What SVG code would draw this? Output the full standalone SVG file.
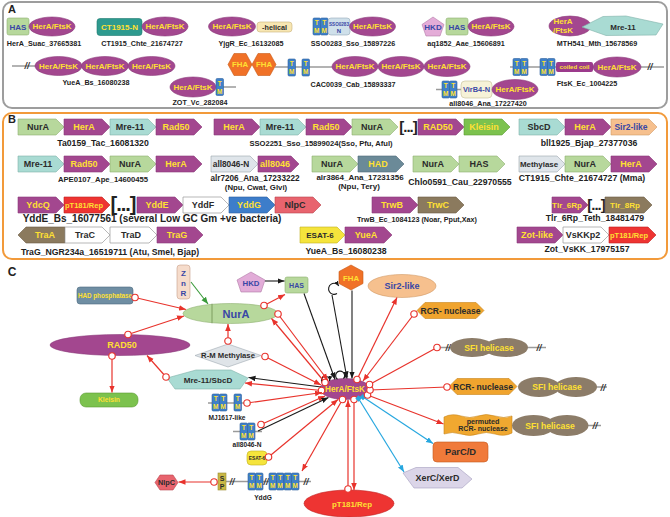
<svg xmlns="http://www.w3.org/2000/svg" width="670" height="517" viewBox="0 0 670 517">
<style>
text{font-family:"Liberation Sans",Arial,sans-serif;font-weight:bold;text-anchor:middle}
.la{font-size:7.2px;fill:#222}
.lb{font-size:8.7px;fill:#222}
.lc{font-size:6.6px;fill:#222}
.s9{font-size:9px}
.s8{font-size:8px}
.y{fill:#ffe032}
.bl{fill:#3947a6}
.dk{fill:#2b2b2b}
.her{fill:#a3478f;stroke:#8b3a7b;stroke-width:.6}
.grn{fill:#b7d89c;stroke:#8fb070;stroke-width:.6}
.tea{fill:#a9dbd3;stroke:#7fb2aa;stroke-width:.6}
.wht{fill:#fff;stroke:#9a9a9a;stroke-width:.7}
.gry{fill:#dfe5ea;stroke:#9aa5ad;stroke-width:.6}
.red{fill:#ee3432;stroke:#c02020;stroke-width:.6}
.brn{fill:#8b7a5e;stroke:#6c5d44;stroke-width:.6}
.blu{fill:#3d7dca;stroke:#2c5f9e;stroke-width:.6}
.pnk{fill:#e8646e;stroke:#b8444e;stroke-width:.6}
.kle{fill:#7cc24e;stroke:#5a9a34;stroke-width:.6}
.sir{fill:#f6c08e;stroke:#d29a66;stroke-width:.6}
.had{fill:#6b8a98;stroke:#4e6a78;stroke-width:.6}
.esa{fill:#f5e43c;stroke:#c0b020;stroke-width:.6}
.fha{fill:#f07127;stroke:#c85a18;stroke-width:.6}
.sfi{fill:#8c7c68}
.rcr{fill:#f0a42e;stroke:#c8841a;stroke-width:.6}
.gl{stroke:#9a9a9a;stroke-width:1.5;fill:none}
.sl{font-size:9px;font-style:italic;fill:#333}
.tmt{font-size:6.5px;fill:#ffe032}
.brk{fill:#222}
.rl{stroke:#e8332c;stroke-width:1.2;fill:none}
.kl{stroke:#1a1a1a;stroke-width:1.1;fill:none}
.bu{stroke:#27a7df;stroke-width:1.2;fill:none}
.gn{stroke:#3a9a3a;stroke-width:1.1;fill:none}
</style>
<defs>
<g id="tm"><rect width="7.5" height="17" rx="1.2" fill="#3f80c8" stroke="#2c5f9e" stroke-width=".6"/><text x="3.75" y="7.2" class="tmt">T</text><text x="3.75" y="15" class="tmt">M</text></g>
<marker id="ar" viewBox="0 0 10 10" refX="10" refY="5" markerWidth="7" markerHeight="7" orient="auto" markerUnits="userSpaceOnUse"><path d="M0,1L10,5L0,9z" fill="#e8332c"/></marker>
<marker id="ak" viewBox="0 0 10 10" refX="10" refY="5" markerWidth="7" markerHeight="7" orient="auto" markerUnits="userSpaceOnUse"><path d="M0,1L10,5L0,9z" fill="#1a1a1a"/></marker>
<marker id="aks" viewBox="0 0 10 10" refX="10" refY="5" markerWidth="5" markerHeight="5" orient="auto" markerUnits="userSpaceOnUse"><path d="M0,1L10,5L0,9z" fill="#1a1a1a"/></marker>
<marker id="ab" viewBox="0 0 10 10" refX="10" refY="5" markerWidth="7" markerHeight="7" orient="auto" markerUnits="userSpaceOnUse"><path d="M0,1L10,5L0,9z" fill="#27a7df"/></marker>
<marker id="ag" viewBox="0 0 10 10" refX="10" refY="5" markerWidth="7" markerHeight="7" orient="auto" markerUnits="userSpaceOnUse"><path d="M0,1L10,5L0,9z" fill="#3a9a3a"/></marker>
<marker id="oc" viewBox="0 0 10 10" refX="5" refY="5" markerWidth="9" markerHeight="9" markerUnits="userSpaceOnUse"><circle cx="5" cy="5" r="3.6" fill="#fff" stroke="#e8332c" stroke-width="1.3"/></marker>
<marker id="bd" viewBox="0 0 10 10" refX="5" refY="5" markerWidth="7" markerHeight="7" markerUnits="userSpaceOnUse"><path d="M5,0.5L9.5,5L5,9.5L0.5,5z" fill="#27a7df"/></marker>
</defs>
<rect width="670" height="517" fill="#fff"/>
<g id="frames">
<rect x="3" y="2" width="664" height="106" rx="9" fill="none" stroke="#9d9d9d" stroke-width="2"/>
<rect x="3" y="113" width="664" height="146" rx="9" fill="none" stroke="#f29a3a" stroke-width="2"/>
<text x="12" y="13" style="font-size:11px" fill="#222">A</text>
<text x="12" y="123" style="font-size:11px" fill="#222">B</text>
<text x="12" y="276" style="font-size:12px" fill="#222">C</text>
</g>

<!-- Panel A -->
<g id="a-hera-suac">
<rect x="7" y="18" width="22" height="17" rx="2" class="grn"/><text x="18" y="29.5" class="s8 bl">HAS</text>
<ellipse cx="52" cy="26.5" rx="23" ry="9.5" class="her"/><text x="52" y="29.3" class="s8 y">HerA/FtsK</text>
<text x="44" y="46" class="la">HerA_Suac_37665381</text>
</g>
<g id="a-ct1915">
<rect x="97" y="18.5" width="45" height="17" rx="3" fill="#2e9a8f" stroke="#1f7a70" stroke-width=".6"/><text x="119.5" y="30" class="s8 y">CT1915-N</text>
<ellipse cx="165" cy="26.5" rx="23" ry="9.5" class="her"/><text x="165" y="29.3" class="s8 y">HerA/FtsK</text>
<text x="142" y="46" class="la">CT1915_Chte_21674727</text>
</g>
<g id="a-yjgr">
<ellipse cx="232" cy="26.5" rx="23.5" ry="9.5" class="her"/><text x="232" y="29.3" class="s8 y">HerA/FtsK</text>
<rect x="257" y="22" width="35" height="10" rx="3" fill="#f7e6b2" stroke="#c9b27a" stroke-width=".6"/><text x="274.5" y="29.5" style="font-size:7.2px" class="dk">-helical</text>
<text x="251" y="46" class="la">YjgR_Ec_16132085</text>
</g>
<g id="a-sso0283">
<use href="#tm" x="313" y="18"/><use href="#tm" x="320.5" y="18"/>
<rect x="328" y="18" width="22" height="17" rx="3" fill="#cfe0ea" stroke="#95aab8" stroke-width=".6"/>
<text x="339" y="25.5" style="font-size:4.6px" class="bl">SSO0283</text><text x="339" y="32.5" style="font-size:6px" class="bl">N</text>
<ellipse cx="372.5" cy="26.5" rx="23" ry="9.5" class="her"/><text x="372.5" y="29.3" class="s8 y">HerA/FtsK</text>
<text x="353" y="46" class="la">SSO0283_Sso_15897226</text>
</g>
<g id="a-aq1852">
<polygon points="433,17 444,24.5 440,36 426,36 422,24.5" fill="#e4acd8" stroke="#b27ca8" stroke-width=".6"/><text x="433" y="30" class="s8 bl">HKD</text>
<rect x="446" y="18" width="22" height="17" rx="2" class="grn"/><text x="457" y="29.5" class="s8 bl">HAS</text>
<ellipse cx="491" cy="26.5" rx="23" ry="9.5" class="her"/><text x="491" y="29.3" class="s8 y">HerA/FtsK</text>
<text x="466" y="46" class="la">aq1852_Aae_15606891</text>
</g>
<g id="a-mth541">
<ellipse cx="570" cy="26" rx="21" ry="10" class="her"/>
<polygon points="582,27 603,16.5 626,16 663,24 656,35 606,35.5" class="tea"/>
<text x="563" y="24" class="s8 y">HerA</text><text x="563" y="33" class="s8 y">/FtsK</text>
<text x="623" y="29.5" class="s8 dk">Mre-11</text>
<text x="597" y="46" class="la">MTH541_Mth_15678569</text>
</g>
<g id="a-yuea">
<line x1="12" y1="66" x2="36" y2="66" class="gl"/><text x="27" y="69" class="sl">//</text>
<ellipse cx="58.5" cy="66" rx="23.5" ry="9.5" class="her"/><text x="58.5" y="68.8" class="s8 y">HerA/FtsK</text>
<ellipse cx="105" cy="66" rx="23.5" ry="9.5" class="her"/><text x="105" y="68.8" class="s8 y">HerA/FtsK</text>
<ellipse cx="151.5" cy="66" rx="23.5" ry="9.5" class="her"/><text x="151.5" y="68.8" class="s8 y">HerA/FtsK</text>
<text x="96" y="85" class="la">YueA_Bs_16080238</text>
</g>
<g id="a-zot">
<line x1="223" y1="87" x2="236" y2="87" class="gl"/>
<ellipse cx="193" cy="87" rx="23" ry="10" class="her"/><text x="193" y="89.8" class="s8 y">HerA/FtsK</text>
<use href="#tm" x="216" y="78.5"/>
<text x="200" y="105" class="la">ZOT_Vc_282084</text>
</g>
<g id="a-cac0039">
<line x1="275" y1="67" x2="334" y2="67" class="gl"/>
<polygon points="228,64.5 234,53.5 246,53.5 252,64.5 246,75.5 234,75.5" class="fha"/><text x="240" y="67.3" style="font-size:7.8px" class="y">FHA</text>
<polygon points="252,64.5 258,53.5 270,53.5 276,64.5 270,75.5 258,75.5" class="fha"/><text x="264" y="67.3" style="font-size:7.8px" class="y">FHA</text>
<use href="#tm" x="288" y="59"/><use href="#tm" x="302" y="59"/>
<ellipse cx="355" cy="66.5" rx="23" ry="10" class="her"/><text x="355" y="69.3" class="s8 y">HerA/FtsK</text>
<ellipse cx="401" cy="66.5" rx="23" ry="10" class="her"/><text x="401" y="69.3" class="s8 y">HerA/FtsK</text>
<ellipse cx="447" cy="66.5" rx="23" ry="10" class="her"/><text x="447" y="69.3" class="s8 y">HerA/FtsK</text>
<text x="353" y="87" class="la">CAC0039_Cab_15893337</text>
</g>
<g id="a-all8046">
<line x1="436" y1="89.5" x2="462" y2="89.5" class="gl"/>
<use href="#tm" x="442" y="81"/><use href="#tm" x="449.5" y="81"/>
<rect x="461" y="81" width="31" height="17" rx="4" fill="#f6f2d8" stroke="#c5bd98" stroke-width=".6"/><text x="476.5" y="92" style="font-size:7.4px" class="bl">VirB4-N</text>
<ellipse cx="515" cy="89.5" rx="23" ry="10" class="her"/><text x="515" y="92.3" class="s8 y">HerA/FtsK</text>
<text x="488" y="106" class="la">all8046_Ana_17227420</text>
</g>
<g id="a-ftsk">
<line x1="510" y1="67" x2="664" y2="67" class="gl"/>
<use href="#tm" x="513" y="58.5"/><use href="#tm" x="520.5" y="58.5"/>
<use href="#tm" x="540" y="58.5"/><use href="#tm" x="547.5" y="58.5"/>
<rect x="556" y="62" width="37" height="10" rx="2" fill="#9c3a8c"/><text x="574.5" y="69.3" style="font-size:6.1px" class="y">coiled coil</text>
<ellipse cx="617" cy="67" rx="24" ry="10" class="her"/><text x="617" y="69.8" class="s8 y">HerA/FtsK</text>
<text x="650" y="70" class="sl">//</text>
<text x="587" y="86" class="la">FtsK_Ec_1004225</text>
</g>

<!-- Panel B -->
<g id="b-ta0159">
<polygon points="18,119 56,119 64,127 56,135 18,135" class="grn"/><text x="38" y="130.2" class="s9 dk">NurA</text>
<polygon points="64,119 102,119 110,127 102,135 64,135" class="her"/><text x="84" y="130.2" class="s9 y">HerA</text>
<polygon points="110,119 148,119 156,127 148,135 110,135" class="tea"/><text x="130" y="130.2" class="s9 dk">Mre-11</text>
<polygon points="156,119 194,119 202,127 194,135 156,135" class="her"/><text x="176" y="130.2" class="s9 y">Rad50</text>
<text x="103" y="146" class="lb">Ta0159_Tac_16081320</text>
</g>
<g id="b-sso2251">
<polygon points="214,119 252,119 260,127 252,135 214,135" class="her"/><text x="234" y="130.2" class="s9 y">HerA</text>
<polygon points="260,119 298,119 306,127 298,135 260,135" class="tea"/><text x="280" y="130.2" class="s9 dk">Mre-11</text>
<polygon points="306,119 344,119 352,127 344,135 306,135" class="her"/><text x="326" y="130.2" class="s9 y">Rad50</text>
<polygon points="352,119 390,119 398,127 390,135 352,135" class="grn"/><text x="372" y="130.2" class="s9 dk">NurA</text>
<text x="408" y="132" style="font-size:15px;letter-spacing:-1px" class="brk">[...]</text>
<polygon points="418,119 456,119 464,127 456,135 418,135" class="her"/><text x="438" y="130.2" class="s9 y">RAD50</text>
<polygon points="464,119 502,119 510,127 502,135 464,135" class="kle"/><text x="484" y="130.2" class="s9 y">Kleisin</text>
<text x="321" y="146" style="font-size:7.6px" class="lb">SSO2251_Sso_15899024(Sso, Pfu, Aful)</text>
</g>
<g id="b-bll1925">
<polygon points="519,119 557,119 565,127 557,135 519,135" class="tea"/><text x="539" y="130.2" class="s9 dk">SbcD</text>
<polygon points="565,119 603,119 611,127 603,135 565,135" class="her"/><text x="585" y="130.2" class="s9 y">HerA</text>
<polygon points="611,119 649,119 657,127 649,135 611,135" class="sir"/><text x="631" y="130" style="font-size:8.5px" class="bl">Sir2-like</text>
<text x="589" y="146" class="lb">bll1925_Bjap_27377036</text>
</g>
<g id="b-ape0107">
<polygon points="18,156 56,156 64,164 56,172 18,172" class="tea"/><text x="38" y="167.2" class="s9 dk">Mre-11</text>
<polygon points="64,156 102,156 110,164 102,172 64,172" class="her"/><text x="84" y="167.2" class="s9 y">Rad50</text>
<polygon points="110,156 148,156 156,164 148,172 110,172" class="grn"/><text x="130" y="167.2" class="s9 dk">NurA</text>
<polygon points="156,156 194,156 202,164 194,172 156,172" class="her"/><text x="176" y="167.2" class="s9 y">HerA</text>
<text x="103" y="182" style="font-size:7.7px" class="lb">APE0107_Ape_14600455</text>
</g>
<g id="b-alr7206">
<polygon points="211,156 250,156 258,164 250,172 211,172" class="gry"/><text x="231" y="167" style="font-size:8.3px" class="dk">all8046-N</text>
<polygon points="258,156 291,156 299,164 291,172 258,172" class="her"/><text x="275" y="167.2" class="s9 y">all8046</text>
<text x="255" y="181" style="font-size:8.2px" class="lb">alr7206_Ana_17233222</text>
<text x="256" y="190" style="font-size:7.8px" class="lb">(Npu, Cwat, Glvi)</text>
</g>
<g id="b-alr3864">
<polygon points="312,156 350,156 358,164 350,172 312,172" class="grn"/><text x="332" y="167.2" class="s9 dk">NurA</text>
<polygon points="358,156 396,156 404,164 396,172 358,172" class="had"/><text x="378" y="167.2" class="s9 y">HAD</text>
<text x="360" y="180" style="font-size:8px" class="lb">alr3864_Ana_17231356</text>
<text x="359" y="189" style="font-size:8px" class="lb">(Npu, Tery)</text>
</g>
<g id="b-chlo0591">
<polygon points="413,156 451,156 459,164 451,172 413,172" class="grn"/><text x="433" y="167.2" class="s9 dk">NurA</text>
<polygon points="459,156 497,156 505,164 497,172 459,172" class="grn"/><text x="479" y="167.2" class="s9 dk">HAS</text>
<text x="460" y="185" class="lb">Chlo0591_Cau_22970555</text>
</g>
<g id="b-ct1915">
<polygon points="519,156 557,156 565,164 557,172 519,172" class="gry"/><text x="539" y="167" style="font-size:7.9px" class="dk">Methylase</text>
<polygon points="565,156 603,156 611,164 603,172 565,172" class="grn"/><text x="585" y="167.2" class="s9 dk">NurA</text>
<polygon points="611,156 649,156 657,164 649,172 611,172" class="her"/><text x="631" y="167.2" class="s9 y">HerA</text>
<text x="582" y="181" class="lb">CT1915_Chte_21674727 (Mma)</text>
</g>
<g id="b-ydde">
<polygon points="18,197 56,197 64,205 56,213 18,213" class="her"/><text x="38" y="208.2" class="s9 y">YdcQ</text>
<polygon points="64,197 102,197 110,205 102,213 64,213" class="red"/><text x="84" y="207.8" style="font-size:7.5px" class="y">pT181/Rep</text>
<text x="123" y="211" style="font-size:20px;letter-spacing:-1px" class="brk">[...]</text>
<polygon points="137,197 175,197 183,205 175,213 137,213" class="her"/><text x="157" y="208.2" class="s9 y">YddE</text>
<polygon points="183,197 221,197 229,205 221,213 183,213" class="wht"/><text x="203" y="208.2" class="s9 dk">YddF</text>
<polygon points="229,197 267,197 275,205 267,213 229,213" class="blu"/><text x="249" y="208.2" class="s9 y">YddG</text>
<polygon points="275,197 313,197 321,205 313,213 275,213" class="pnk"/><text x="295" y="208.2" class="s9 dk">NlpC</text>
<text x="152" y="222" style="font-size:10px" class="lb">YddE_Bs_16077561 (several Low GC Gm +ve bacteria)</text>
</g>
<g id="b-trwb">
<polygon points="372,197 410,197 418,205 410,213 372,213" class="her"/><text x="392" y="208.2" class="s9 y">TrwB</text>
<polygon points="418,197 456,197 464,205 456,213 418,213" class="brn"/><text x="438" y="208.2" class="s9 y">TrwC</text>
<text x="417" y="222" style="font-size:7.2px" class="lb">TrwB_Ec_1084123 (Noar, Pput,Xax)</text>
</g>
<g id="b-tlr">
<polygon points="552,197 580,197 588,205 580,213 552,213" class="her"/><text x="567" y="208" class="s8 y">Tlr_6Rp</text>
<text x="596" y="210" style="font-size:15px;letter-spacing:-1px" class="brk">[...]</text>
<polygon points="605,197 644,197 652,205 644,213 605,213" class="brn"/><text x="625" y="208" class="s8 y">Tlr_8Rp</text>
<text x="595" y="221" class="lb">Tlr_6Rp_Teth_18481479</text>
</g>
<g id="b-trag">
<polygon points="18,235 26,227 65,227 65,243 26,243" class="brn"/><text x="45" y="238.2" class="s9 y">TraA</text>
<polygon points="65,227 102,227 110,235 102,243 65,243" class="wht"/><text x="85" y="238.2" class="s9 dk">TraC</text>
<polygon points="110,227 149,227 157,235 149,243 110,243" class="wht"/><text x="131" y="238.2" class="s9 dk">TraD</text>
<polygon points="157,227 195,227 203,235 195,243 157,243" class="her"/><text x="177" y="238.2" class="s9 y">TraG</text>
<text x="110" y="255" class="lb">TraG_NGR234a_16519711 (Atu, Smel, Bjap)</text>
</g>
<g id="b-yuea">
<polygon points="300,227 337,227 345,235 337,243 300,243" class="esa"/><text x="320" y="238" class="s8 dk">ESAT-6</text>
<polygon points="345,227 384,227 392,235 384,243 345,243" class="her"/><text x="366" y="238.2" class="s9 y">YueA</text>
<text x="346" y="254" class="lb">YueA_Bs_16080238</text>
</g>
<g id="b-zot">
<polygon points="517,227 555,227 563,235 555,243 517,243" class="her"/><text x="537" y="238.2" class="s9 y">Zot-like</text>
<polygon points="563,227 601,227 609,235 601,243 563,243" class="wht"/><text x="583" y="238.2" class="s9 dk">VsKKp2</text>
<polygon points="609,227 648,227 656,235 648,243 609,243" class="red"/><text x="629" y="237.8" style="font-size:7.5px" class="y">pT181/Rep</text>
<text x="587" y="252" class="lb">Zot_VsKK_17975157</text>
</g>

<!-- Panel C nodes -->
<g id="c-znr"><rect x="177" y="265" width="13" height="34" rx="3" fill="#f6dccb" stroke="#c8a08a" stroke-width=".6"/>
<text x="183.5" y="276" class="s8 bl">Z</text><text x="183.5" y="286" class="s8 bl">n</text><text x="183.5" y="296" class="s8 bl">R</text></g>
<g id="c-had"><rect x="77" y="287" width="56" height="17" rx="3" fill="#6f8ea3" stroke="#4c6a80" stroke-width=".6"/><text x="105" y="297.8" style="font-size:6.3px" class="y">HAD phosphatase</text></g>
<g id="c-hkd"><polygon points="251,272 265,280 261,292 241,292 237,280" fill="#e2acd8" stroke="#b07aa6" stroke-width=".6"/><text x="251" y="286" style="font-size:7.8px" class="bl">HKD</text></g>
<g id="c-has"><rect x="285" y="277" width="23" height="16" rx="2" class="grn"/><text x="296.5" y="287.5" style="font-size:7px" class="bl">HAS</text></g>
<g id="c-fha"><polygon points="351,265 363,271.5 363,283.5 351,290 339,283.5 339,271.5" class="fha"/><text x="351" y="280.5" style="font-size:7.8px" class="y">FHA</text></g>
<g id="c-sir2"><ellipse cx="402" cy="286" rx="34" ry="11.5" class="sir"/><text x="402" y="289.2" class="s9 bl">Sir2-like</text></g>
<g id="c-nura"><ellipse cx="230.5" cy="313.5" rx="47.5" ry="10" class="grn"/><line x1="212" y1="303.8" x2="212" y2="323.2" stroke="#6f9050" stroke-width=".8"/><text x="236" y="317.5" style="font-size:11px" class="bl">NurA</text></g>
<g id="c-rad50"><ellipse cx="120" cy="345" rx="70" ry="10.5" class="her"/><text x="122" y="348.3" style="font-size:9px" class="y">RAD50</text></g>
<g id="c-rm"><polygon points="195,355.5 228,344 261,355.5 228,367" fill="#dfe4e8" stroke="#a0aab2" stroke-width=".6"/><text x="228" y="358.3" style="font-size:7.7px" class="dk">R-M Methylase</text></g>
<g id="c-mre11"><polygon points="167,378 196,370 231,370 248,378 240,389 175,389" class="tea"/><text x="208" y="382.8" style="font-size:8.1px" class="dk">Mre-11/SbcD</text></g>
<g id="c-kleisin"><rect x="80" y="393" width="58" height="14" rx="6" class="kle"/><text x="109" y="402.3" style="font-size:6.7px" class="y">Kleisin</text></g>
<g id="c-mj1617"><line x1="208" y1="403" x2="247" y2="403" class="gl"/>
<use href="#tm" x="212" y="394"/><use href="#tm" x="219.5" y="394"/><use href="#tm" x="234" y="394"/>
<text x="227" y="420" class="lc">MJ1617-like</text></g>
<g id="c-all8046n"><line x1="233" y1="431.5" x2="262" y2="431.5" class="gl"/>
<use href="#tm" x="240" y="423"/><use href="#tm" x="247.5" y="423"/>
<text x="247" y="446.5" class="lc">all8046-N</text></g>
<g id="c-esat6"><rect x="247" y="451" width="20" height="14" rx="4" class="esa"/><text x="257" y="459.7" style="font-size:4.8px" class="dk">ESAT-6</text></g>
<g id="c-yddg"><line x1="226" y1="481.5" x2="311" y2="481.5" class="gl"/>
<rect x="218" y="473" width="8" height="17" fill="#c9b846" stroke="#998a30" stroke-width=".6"/><text x="222" y="480.5" style="font-size:7px" class="dk">S</text><text x="222" y="488.5" style="font-size:7px" class="dk">P</text>
<text x="232" y="485" class="sl">//</text>
<use href="#tm" x="248" y="473"/><use href="#tm" x="255.5" y="473"/>
<text x="266" y="485" class="sl">//</text>
<use href="#tm" x="269" y="473"/><use href="#tm" x="276.5" y="473"/><use href="#tm" x="284" y="473"/><use href="#tm" x="291.5" y="473"/>
<text x="306" y="485" class="sl">//</text>
<text x="263" y="500" class="lc">YddG</text></g>
<g id="c-nlpc"><polygon points="155,482.5 160,475 173,475 178,482.5 173,490 160,490" class="pnk"/><text x="166.5" y="485" style="font-size:7.3px" class="dk">NlpC</text></g>
<g id="c-rcr1"><polygon points="417,310.5 425,302.5 476,302.5 484,310.5 476,318.5 425,318.5" class="rcr"/><text x="450.5" y="313.5" style="font-size:8.5px" class="dk">RCR- nuclease</text></g>
<g id="c-sfi1"><line x1="437" y1="347.5" x2="452" y2="347.5" class="gl"/><text x="448" y="351" class="sl">//</text>
<line x1="526" y1="347.5" x2="546" y2="347.5" class="gl"/><text x="539" y="351" class="sl">//</text>
<ellipse cx="472" cy="347.5" rx="22" ry="9.5" class="sfi"/><ellipse cx="506" cy="347.5" rx="22" ry="9.5" class="sfi"/>
<text x="489" y="350.6" style="font-size:8.6px" class="y">SFI helicase</text></g>
<g id="c-rcr2"><polygon points="449,386.5 457,378.5 509,378.5 517,386.5 509,394.5 457,394.5" class="rcr"/><text x="483" y="389.5" style="font-size:8.5px" class="dk">RCR- nuclease</text></g>
<g id="c-sfi2"><line x1="594" y1="387" x2="607" y2="387" class="gl"/><text x="603" y="390.5" class="sl">//</text>
<ellipse cx="539" cy="387" rx="21" ry="10" class="sfi"/><ellipse cx="576" cy="387" rx="21" ry="10" class="sfi"/>
<text x="557" y="390" style="font-size:8.6px" class="y">SFI helicase</text></g>
<g id="c-permuted"><path d="M444,417 Q452,413 461,416 T478,416 T495,416 T512,416 L512,433 Q504,437 495,434 T478,434 T461,434 T444,434 Z" fill="#f0a830" stroke="#c8841a" stroke-width=".6"/>
<text x="483" y="423.5" style="font-size:7.2px" class="dk">permuted</text><text x="483" y="431.3" style="font-size:7px" class="dk">RCR- nuclease</text></g>
<g id="c-sfi3"><line x1="586" y1="425.5" x2="601" y2="425.5" class="gl"/><text x="595" y="429" class="sl">//</text>
<ellipse cx="533.5" cy="425.5" rx="21.5" ry="10.5" class="sfi"/><ellipse cx="567" cy="425.5" rx="21.5" ry="10.5" class="sfi"/>
<text x="550" y="428.6" style="font-size:8.6px" class="y">SFI helicase</text></g>
<g id="c-parcd"><rect x="433" y="442" width="55" height="20" rx="4" fill="#f07a3a" stroke="#c45a20" stroke-width=".6"/><text x="460.5" y="455.3" style="font-size:9.3px" class="dk">ParC/D</text></g>
<g id="c-xer"><polygon points="403,473 416,467.5 458,467.5 472,479 462,488 414,488" fill="#dbd5e8" stroke="#a59ec0" stroke-width=".6"/><text x="437.5" y="481.3" style="font-size:8.9px" class="dk">XerC/XerD</text></g>
<g id="c-pt181"><ellipse cx="349" cy="503.5" rx="45" ry="13.5" class="red"/><text x="352" y="507" style="font-size:7.9px" class="y">pT181/Rep</text></g>
<g id="c-hera"><ellipse cx="345" cy="389" rx="25" ry="10.5" class="her"/><text x="345" y="392" style="font-size:8.2px" class="y">HerA/FtsK</text></g>

<!-- Connectors -->
<g id="connectors">
<line x1="135" y1="297.5" x2="186" y2="309.5" class="rl" marker-start="url(#oc)" marker-end="url(#ar)"/>
<line x1="191" y1="282" x2="208" y2="304" class="gn" marker-end="url(#ag)"/>
<line x1="128" y1="334.5" x2="184" y2="316" class="rl" marker-start="url(#oc)" marker-end="url(#ar)"/>
<line x1="112" y1="356" x2="112" y2="392.5" class="rl" marker-start="url(#oc)" marker-end="url(#ar)"/>
<line x1="166" y1="377" x2="147" y2="355.5" class="rl" marker-start="url(#oc)" marker-end="url(#ar)"/>
<line x1="228" y1="341" x2="228" y2="324" class="rl" marker-start="url(#oc)" marker-end="url(#ar)"/>
<line x1="264" y1="305.5" x2="285" y2="294.5" class="rl" marker-start="url(#oc)" marker-end="url(#ar)"/>
<line x1="265" y1="281" x2="284.5" y2="281" class="kl" marker-end="url(#ak)"/>
<line x1="214" y1="482" x2="178.5" y2="482" class="rl" marker-start="url(#oc)" marker-end="url(#ar)"/>
<path d="M337,293.5 A5.5,5.5 0 1 1 338.8,286" class="kl" marker-end="url(#aks)"/>
<path d="M337.5,379.3 A4.5,4.5 0 1 1 343.5,378.6" class="kl" marker-end="url(#aks)"/>
<path d="M324,384 A4,4 0 1 1 329.5,381" class="kl" marker-end="url(#aks)"/>
<line x1="325" y1="382.5" x2="271.5" y2="318.5" class="rl" marker-start="url(#oc)" marker-end="url(#ar)"/>
<line x1="278" y1="314" x2="328" y2="380.5" class="rl" marker-start="url(#oc)" marker-end="url(#ar)"/>
<line x1="304" y1="293.5" x2="335" y2="379.5" class="kl" marker-end="url(#ak)"/>
<line x1="332" y1="295" x2="347" y2="378.5" class="kl" marker-end="url(#ak)"/>
<line x1="352" y1="290.5" x2="352" y2="378.5" class="kl" marker-end="url(#ak)"/>
<line x1="265" y1="356.5" x2="321" y2="385" class="rl" marker-start="url(#oc)" marker-end="url(#ar)"/>
<line x1="321" y1="387" x2="248.5" y2="377.5" class="kl" marker-end="url(#ak)"/>
<line x1="321.5" y1="390.5" x2="245" y2="383" class="rl" marker-start="url(#oc)" marker-end="url(#ar)"/>
<line x1="247" y1="403" x2="322" y2="392.5" class="rl" marker-start="url(#oc)" marker-end="url(#ar)"/>
<line x1="261" y1="424.5" x2="325" y2="396" class="rl" marker-start="url(#oc)" marker-end="url(#ar)"/>
<line x1="258" y1="431" x2="328.5" y2="397.5" class="kl" marker-end="url(#ak)"/>
<line x1="268.5" y1="457" x2="338" y2="399.5" class="rl" marker-start="url(#oc)" marker-end="url(#ar)"/>
<line x1="342.5" y1="399.5" x2="302" y2="471" class="rl" marker-start="url(#oc)" marker-end="url(#ar)"/>
<line x1="348" y1="489" x2="348" y2="400" class="rl" marker-start="url(#oc)" marker-end="url(#ar)"/>
<line x1="354" y1="399.5" x2="354" y2="490" class="rl" marker-start="url(#oc)" marker-end="url(#ar)"/>
<line x1="358.5" y1="398.5" x2="404" y2="472" class="bu" marker-start="url(#bd)" marker-end="url(#ab)"/>
<line x1="363" y1="397" x2="433" y2="443.5" class="bu" marker-start="url(#bd)" marker-end="url(#ab)"/>
<line x1="367.5" y1="395" x2="443.5" y2="424" class="rl" marker-start="url(#oc)" marker-end="url(#ar)"/>
<line x1="370" y1="390" x2="447" y2="387" class="rl" marker-start="url(#oc)" marker-end="url(#oc)"/>
<line x1="369.5" y1="384.5" x2="437" y2="347.5" class="rl" marker-start="url(#oc)" marker-end="url(#oc)"/>
<line x1="414" y1="314" x2="363" y2="381" class="rl" marker-start="url(#oc)" marker-end="url(#ar)"/>
<line x1="357" y1="379.5" x2="397" y2="297.5" class="rl" marker-start="url(#oc)" marker-end="url(#ar)"/>
</g>
</svg>
